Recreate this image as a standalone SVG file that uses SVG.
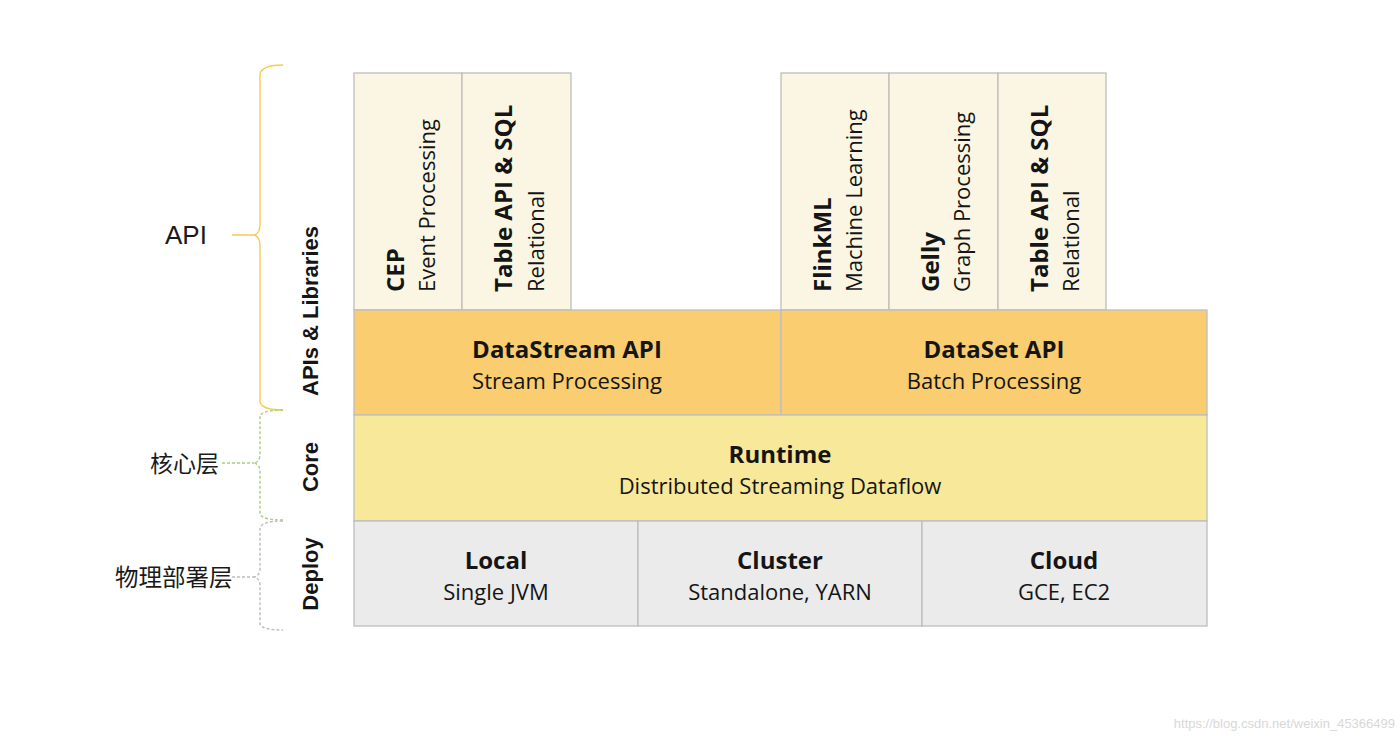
<svg xmlns="http://www.w3.org/2000/svg" width="1400" height="738" viewBox="0 0 1400 738">
<style>
.box{stroke:#BDBDBD;stroke-width:1.3}
.lib{fill:#FBF6E3}
.api{fill:#F9CD70}
.core{fill:#F8E89A}
.dep{fill:#EBEBEB}
.t{font-family:"Open Sans","Noto Sans",sans-serif;fill:#151515}
.b{font-weight:bold;font-size:24px}
.r{font-size:22px}
.vb{font-family:"Liberation Sans",Arial,sans-serif;font-weight:bold;font-size:22px;fill:#151515}
.lbl{font-family:"Liberation Sans","Noto Sans CJK SC",sans-serif;fill:#1A1A1A}
.brace{fill:none;stroke-width:1.4}
</style>
<rect width="1400" height="738" fill="#FFFFFF"/>

<g id="side-labels">
  <text class="lbl" x="165" y="244" font-size="26">API</text>
  <text class="lbl" x="150" y="472" font-size="23">核心层</text>
  <text class="lbl" x="115" y="586" font-size="23.5">物理部署层</text>
</g>

<g id="connectors">
  <path class="brace" stroke="#F4CC52" d="M283,65 Q262,65 260,74 L260,226 Q259,234 254,235 Q259,236 260,244 L260,402 Q262,410 283,410 M232,235 L254,235"/>
  <path class="brace" stroke="#A8CF7E" stroke-dasharray="3 2" d="M283,410 Q262,410 260,416 L260,456 Q259,462 254,463 Q259,464 260,470 L260,514 Q262,520 283,520 M222,463 L254,463"/>
  <path class="brace" stroke="#BDBDBD" stroke-dasharray="3 2" d="M283,521 Q262,521 260,528 L260,570 Q259,576 254,577 Q259,578 260,584 L260,624 Q262,630 283,630 M232,577 L254,577"/>
</g>

<g id="layer-labels">
  <text class="vb" transform="translate(318,311) rotate(-90)" text-anchor="middle">APIs &amp; Libraries</text>
  <text class="vb" transform="translate(318,467) rotate(-90)" text-anchor="middle">Core</text>
  <text class="vb" transform="translate(318,574) rotate(-90)" text-anchor="middle">Deploy</text>
</g>

<g id="cep">
  <rect class="box lib" x="354" y="73" width="108" height="237"/>
  <text class="t b" transform="translate(404,292) rotate(-90)">CEP</text>
  <text class="t r" transform="translate(435,292) rotate(-90)">Event Processing</text>
</g>
<g id="table1">
  <rect class="box lib" x="462" y="73" width="109" height="237"/>
  <text class="t b" transform="translate(512,292) rotate(-90)">Table API &amp; SQL</text>
  <text class="t r" transform="translate(544,292) rotate(-90)">Relational</text>
</g>
<g id="flinkml">
  <rect class="box lib" x="781" y="73" width="108" height="237"/>
  <text class="t b" transform="translate(831,292) rotate(-90)">FlinkML</text>
  <text class="t r" transform="translate(862,292) rotate(-90)">Machine Learning</text>
</g>
<g id="gelly">
  <rect class="box lib" x="889" y="73" width="109" height="237"/>
  <text class="t b" transform="translate(939,292) rotate(-90)">Gelly</text>
  <text class="t r" transform="translate(970,292) rotate(-90)">Graph Processing</text>
</g>
<g id="table2">
  <rect class="box lib" x="998" y="73" width="108" height="237"/>
  <text class="t b" transform="translate(1048,292) rotate(-90)">Table API &amp; SQL</text>
  <text class="t r" transform="translate(1079,292) rotate(-90)">Relational</text>
</g>

<g id="datastream">
  <rect class="box api" x="354" y="310" width="427" height="105"/>
  <text class="t b" x="567" y="358" text-anchor="middle">DataStream API</text>
  <text class="t r" x="567" y="389" text-anchor="middle">Stream Processing</text>
</g>
<g id="dataset">
  <rect class="box api" x="781" y="310" width="426" height="105"/>
  <text class="t b" x="994" y="358" text-anchor="middle">DataSet API</text>
  <text class="t r" x="994" y="389" text-anchor="middle">Batch Processing</text>
</g>
<g id="runtime">
  <rect class="box core" x="354" y="415" width="853" height="106"/>
  <text class="t b" x="780" y="463" text-anchor="middle">Runtime</text>
  <text class="t r" x="780" y="494" text-anchor="middle">Distributed Streaming Dataflow</text>
</g>
<g id="local">
  <rect class="box dep" x="354" y="521" width="284" height="105"/>
  <text class="t b" x="496" y="569" text-anchor="middle">Local</text>
  <text class="t r" x="496" y="600" text-anchor="middle">Single JVM</text>
</g>
<g id="cluster">
  <rect class="box dep" x="638" y="521" width="284" height="105"/>
  <text class="t b" x="780" y="569" text-anchor="middle">Cluster</text>
  <text class="t r" x="780" y="600" text-anchor="middle">Standalone, YARN</text>
</g>
<g id="cloud">
  <rect class="box dep" x="922" y="521" width="285" height="105"/>
  <text class="t b" x="1064" y="569" text-anchor="middle">Cloud</text>
  <text class="t r" x="1064" y="600" text-anchor="middle">GCE, EC2</text>
</g>

<text x="1395" y="728" text-anchor="end" font-family="'Liberation Sans',Arial,sans-serif" font-size="13" fill="#D8D8D8">https://blog.csdn.net/weixin_45366499</text>
</svg>
